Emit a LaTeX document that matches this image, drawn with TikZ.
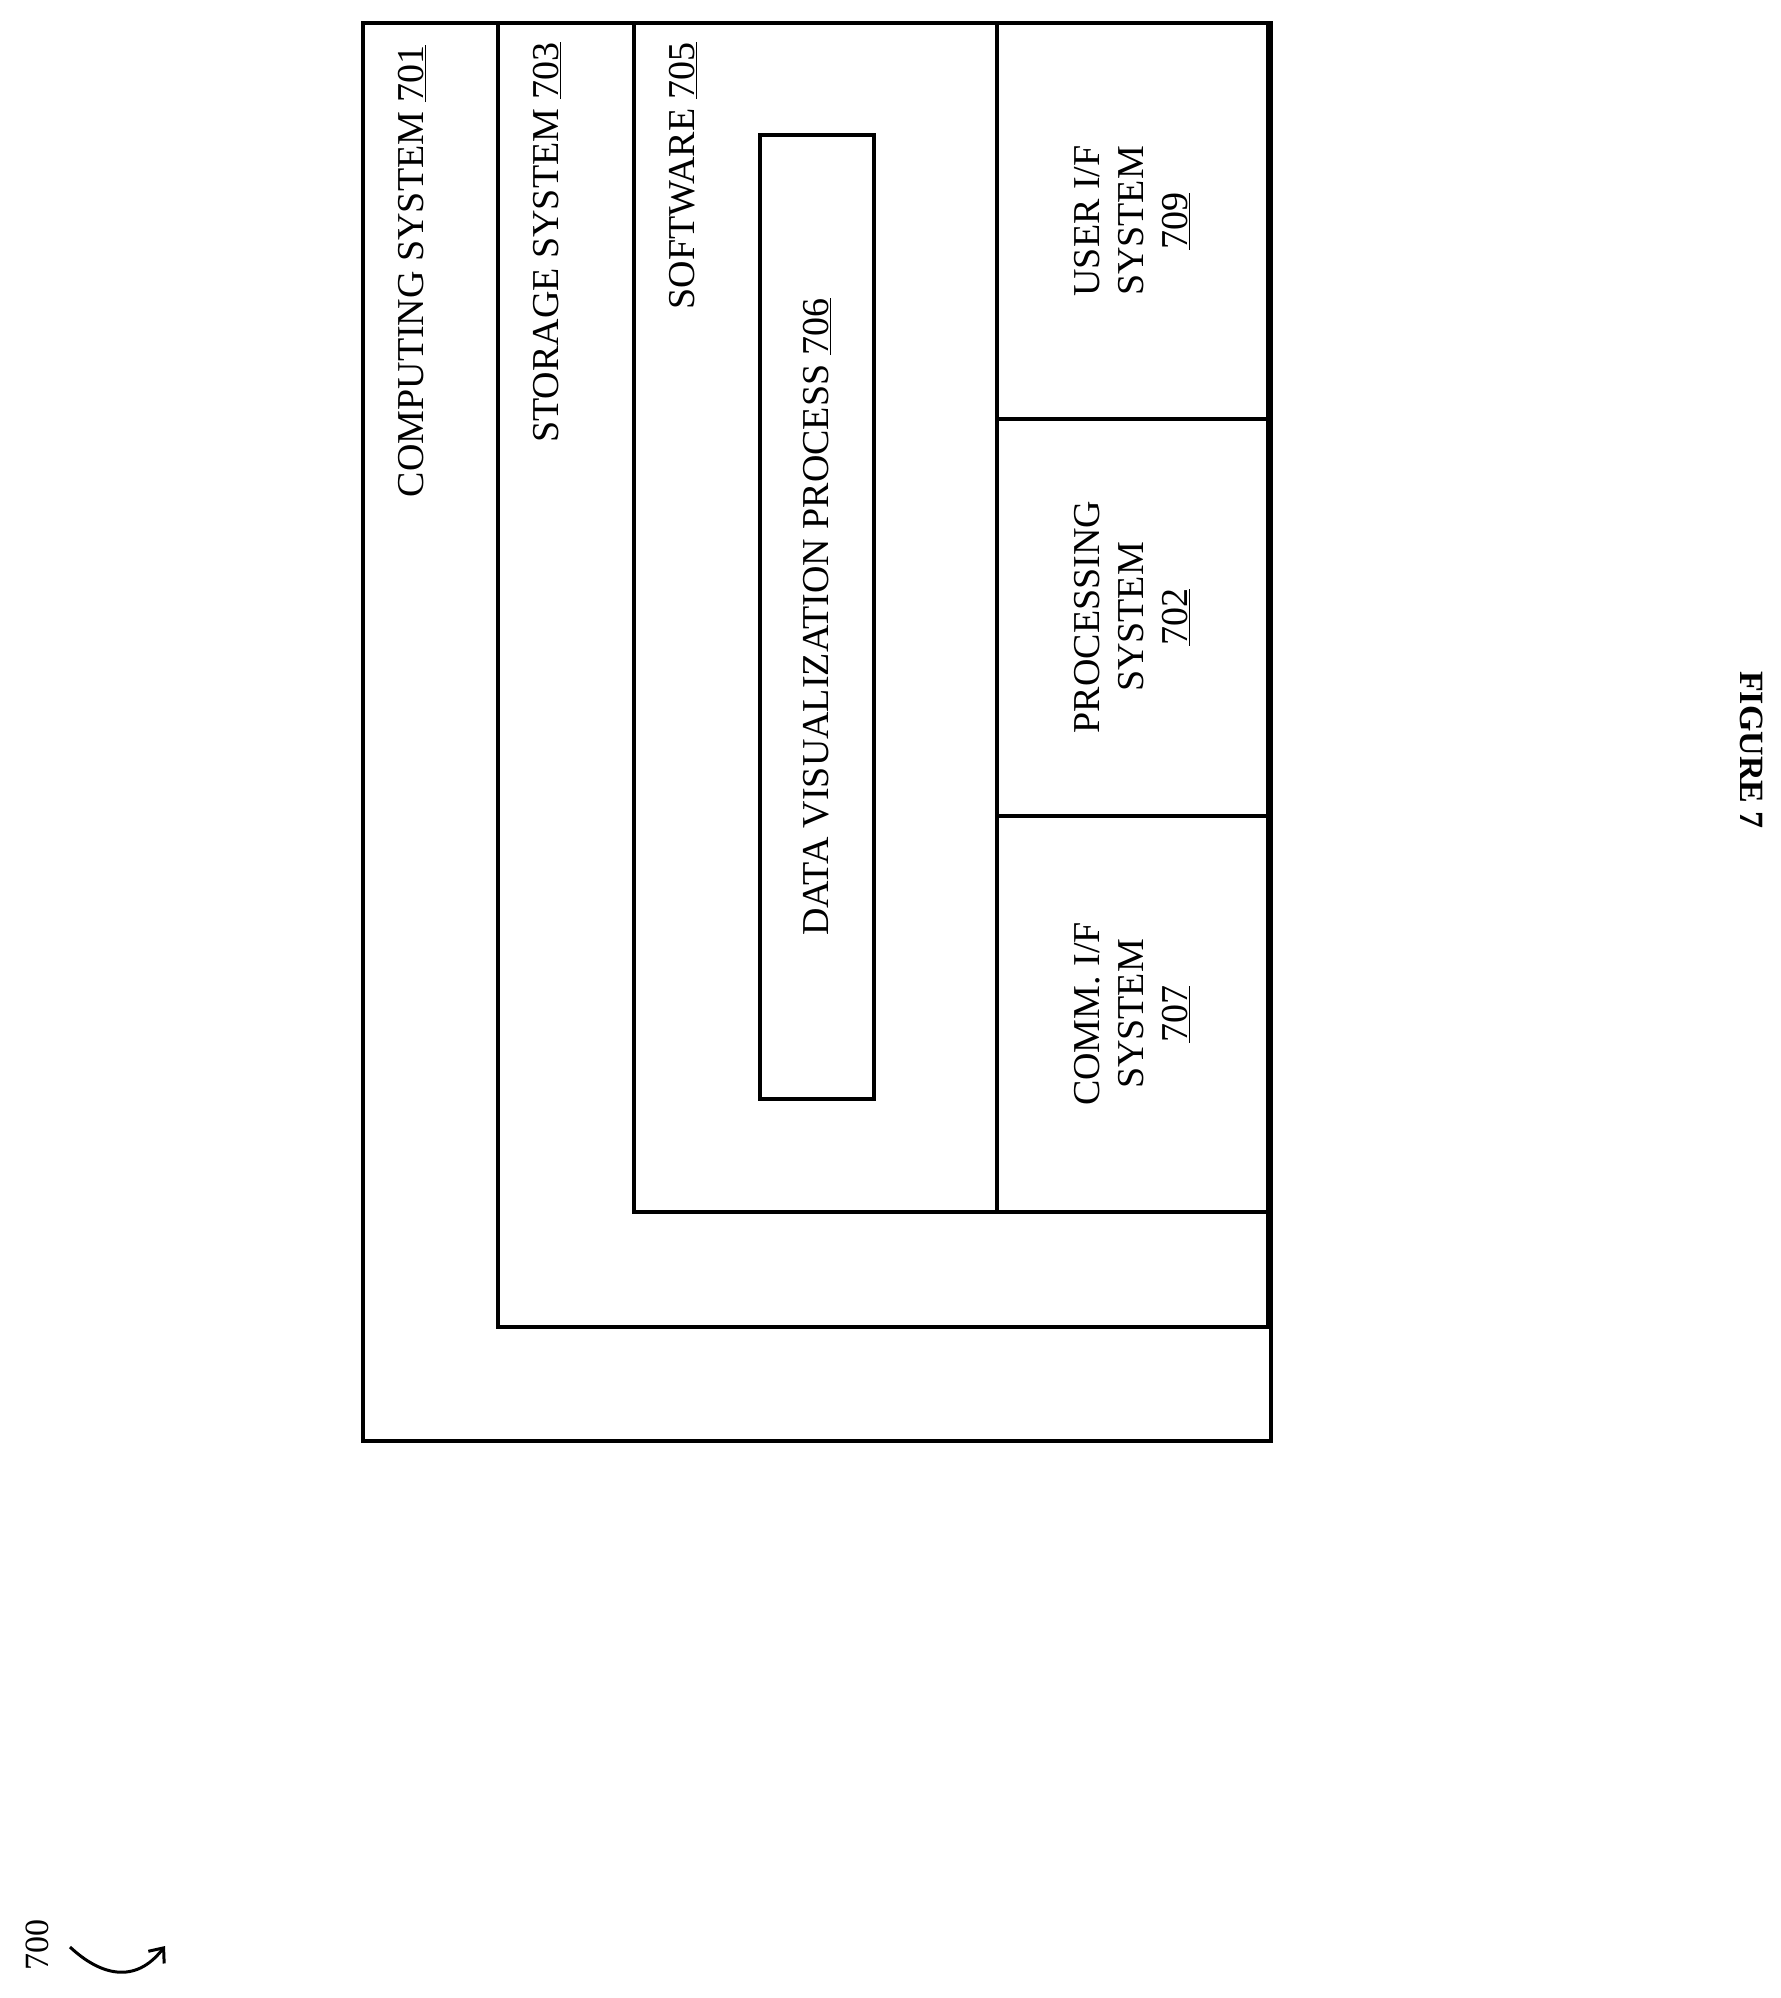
\documentclass[tikz,border=0pt]{standalone}
\usepackage{fontspec}
\setmainfont{Liberation Serif}
\usetikzlibrary{positioning,arrows.meta}
\tikzset{
      mybox/.style={
        draw,
        line width=4.5pt
      },
      mylabel/.style={
        rotate=90,
        font=\fontsize{38}{44}\selectfont,
        inner sep=0pt
      },
      mycell/.style={
        rotate=90,
        align=center,
        font=\fontsize{38}{44}\selectfont
      },
    }
\begin{document}
\begin{tikzpicture}[x=1pt,y=-1pt]
            \useasboundingbox (0,0) rectangle (1781,1998);

            %Caixes niuades
            \draw[mybox] (363,23) rectangle (1271,1441);
            \draw[mybox] (498,23) rectangle (1268,1327);
            \draw[mybox] (634,23) rectangle (997,1212);
            \draw[mybox] (997,23) rectangle (1268,1212);
            \draw[mybox] (997,419) -- (1268,419);
            \draw[mybox] (997,816) -- (1268,816);
            \draw[mybox] (760,135) rectangle (874,1099);

            %Etiquetes
            \node[mylabel,anchor=east] (computing) at (412,45) {COMPUTING SYSTEM \underline{701}};
            \node[mylabel,anchor=east] (storage) at (547,42) {STORAGE SYSTEM \underline{703}};
            \node[mylabel,anchor=east] (software) at (683,42) {SOFTWARE \underline{705}};
            \node[mylabel] (dataviz) at (817,617) {DATA VISUALIZATION PROCESS \underline{706}};

            \node[mycell] (userif) at (1132,221) {USER I/F\\SYSTEM\\\underline{709}};
            \node[mycell] (processing) at (1132,617) {PROCESSING\\SYSTEM\\\underline{702}};
            \node[mycell] (commif) at (1132,1014) {COMM. I/F\\SYSTEM\\\underline{707}};

            \node[rotate=-90,font=\bfseries\fontsize{34}{40}\selectfont] (figure) at (1752,750) {FIGURE 7};

            \node[rotate=90,font=\fontsize{34}{40}\selectfont,inner sep=0pt] (ref) at (37,1945) {700};
            \coordinate (refstart) at (70,1947);
            \coordinate (refend) at (165,1946);
            \draw[line width=3pt,-{Straight Barb[length=12pt,width=20pt]}] (refstart) .. controls (100,1975) and (135,1985) .. (refend);

          \end{tikzpicture}
\end{document}
